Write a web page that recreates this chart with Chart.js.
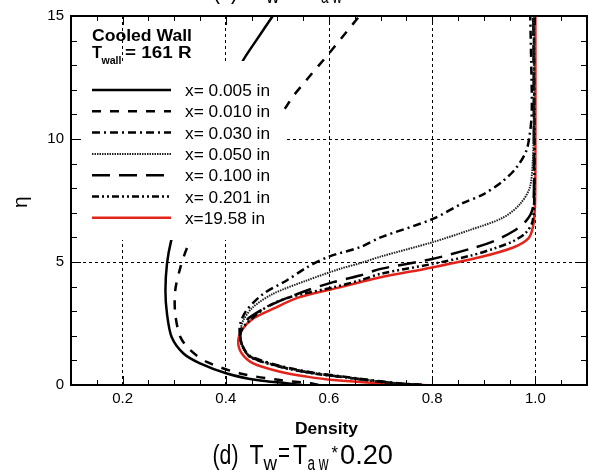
<!DOCTYPE html>
<html>
<head>
<meta charset="utf-8">
<script src="https://cdn.jsdelivr.net/npm/chart.js@4.4.0/dist/chart.umd.min.js"></script>
<style>
  html, body { margin: 0; padding: 0; background: #fff; }
  #wrap { position: relative; width: 594px; height: 476px; }
</style>
</head>
<body>
<div id="wrap"><canvas id="densityChart"></canvas></div>
<script>
const seriesLabels = ['x= 0.005 in', 'x= 0.010 in', 'x= 0.030 in', 'x= 0.050 in', 'x= 0.100 in', 'x= 0.201 in', 'x=19.58 in'];
const xTicks = [0.2, 0.4, 0.6, 0.8, 1.0];
const yTicks = [0, 5, 10, 15];

// density vs eta, starting at the wall (eta = 0)
const rho005 = [0.548, 0.518, 0.46, 0.402, 0.35, 0.318, 0.295, 0.286, 0.283, 0.286, 0.294, 0.31, 0.33, 0.355, 0.385, 0.41, 0.432, 0.462, 0.491];
const eta005 = [0, 0.07, 0.2, 0.47, 0.88, 1.28, 1.95, 2.9, 3.84, 4.92, 5.86, 7.0, 8.2, 9.5, 11.0, 12.1, 13.14, 14.1, 15];

const rho010 = [0.58, 0.565, 0.505, 0.428, 0.363, 0.331, 0.312, 0.302, 0.302, 0.312, 0.324, 0.345, 0.375, 0.41, 0.445, 0.48, 0.515, 0.53, 0.6, 0.647, 0.659];
const eta010 = [0, 0.07, 0.2, 0.47, 0.94, 1.42, 1.95, 2.9, 3.84, 4.78, 5.53, 6.5, 7.6, 8.7, 9.6, 10.4, 11.25, 11.73, 13.48, 14.69, 15];

const rho030 = [0.78, 0.72, 0.621, 0.57, 0.505, 0.447, 0.432, 0.427, 0.428, 0.44, 0.473, 0.518, 0.557, 0.6, 0.66, 0.7, 0.8, 0.86, 0.899, 0.937, 0.963, 0.982, 0.989, 0.993, 0.992, 0.99];
const eta030 = [0, 0.1, 0.36, 0.5, 0.78, 1.18, 1.6, 2.08, 2.49, 3.03, 3.71, 4.25, 4.78, 5.22, 5.6, 6.0, 6.74, 7.4, 7.75, 8.29, 8.83, 9.5, 10.18, 11.1, 13, 15];

const rho050 = [0.78, 0.72, 0.621, 0.57, 0.505, 0.447, 0.432, 0.428, 0.434, 0.453, 0.492, 0.557, 0.621, 0.66, 0.7, 0.8, 0.873, 0.937, 0.97, 0.989, 0.995, 0.997, 0.997];
const eta050 = [0, 0.09, 0.35, 0.49, 0.76, 1.16, 1.6, 2.1, 2.63, 3.17, 3.71, 4.25, 4.72, 4.95, 5.22, 5.8, 6.3, 6.8, 7.35, 8.02, 9.1, 11, 15];

const rho100 = [0.78, 0.72, 0.621, 0.57, 0.505, 0.447, 0.432, 0.428, 0.434, 0.447, 0.492, 0.557, 0.608, 0.66, 0.7, 0.8, 0.873, 0.92, 0.957, 0.982, 0.995, 0.997, 0.996];
const eta100 = [0, 0.09, 0.34, 0.48, 0.75, 1.15, 1.6, 2.05, 2.45, 2.76, 3.3, 3.84, 4.18, 4.45, 4.72, 5.12, 5.53, 5.85, 6.25, 6.67, 7.21, 9, 15];

const rho201 = [0.78, 0.72, 0.621, 0.57, 0.505, 0.447, 0.432, 0.428, 0.432, 0.44, 0.479, 0.524, 0.608, 0.66, 0.7, 0.8, 0.873, 0.92, 0.957, 0.982, 0.995, 0.998, 0.997];
const eta201 = [0, 0.08, 0.34, 0.47, 0.74, 1.14, 1.6, 2.0, 2.3, 2.5, 3.17, 3.57, 3.97, 4.25, 4.52, 4.92, 5.25, 5.55, 5.85, 6.2, 6.7, 8.5, 15];

const rho1958 = [0.785, 0.7, 0.608, 0.557, 0.505, 0.453, 0.431, 0.424, 0.431, 0.453, 0.492, 0.54, 0.621, 0.66, 0.7, 0.8, 0.892, 0.957, 0.986, 0.995, 0.999, 1.0, 1.0];
const eta1958 = [0, 0.07, 0.2, 0.34, 0.54, 0.88, 1.28, 1.75, 2.22, 2.7, 3.1, 3.55, 3.97, 4.18, 4.38, 4.78, 5.19, 5.59, 5.95, 6.4, 7.2, 9, 15];

const rhoSeries = [rho005, rho010, rho030, rho050, rho100, rho201, rho1958];
const etaSeries = [eta005, eta010, eta030, eta050, eta100, eta201, eta1958];

const lineStyles = [
  { color: '#000', width: 2.5, dash: [] },
  { color: '#000', width: 2.5, dash: [9, 9] },
  { color: '#000', width: 2.5, dash: [8, 4, 2, 4] },
  { color: '#222', width: 2, dash: [1.5, 1] },
  { color: '#000', width: 2.5, dash: [18, 9] },
  { color: '#000', width: 2.5, dash: [7, 3, 2, 3, 2, 3] },
  { color: '#e2241b', width: 2.5, dash: [] }
];

const FONT = '"Liberation Sans", Arial, sans-serif';

const datasets = seriesLabels.map((label, i) => ({
  label: label,
  data: rhoSeries[i].map((r, j) => ({ x: r, y: etaSeries[i][j] })),
  showLine: true,
  borderColor: lineStyles[i].color,
  borderWidth: lineStyles[i].width,
  borderDash: lineStyles[i].dash,
  pointRadius: 0,
  tension: 0.3,
  fill: false
}));

// draws text squeezed/stretched horizontally to a given width
function drawFit(ctx, text, x, y, font, width) {
  ctx.font = font;
  const w = ctx.measureText(text).width;
  ctx.save();
  ctx.translate(x, y);
  ctx.scale(width / w, 1);
  ctx.fillText(text, 0, 0);
  ctx.restore();
}

const decorPlugin = {
  id: 'decor',
  afterDatasetsDraw(chart) {
    const ctx = chart.ctx;
    const xs = chart.scales.x, ys = chart.scales.y;
    const area = chart.chartArea;
    ctx.save();

    // legend box (white, hides grid and curves behind it)
    ctx.fillStyle = '#fff';
    ctx.fillRect(area.left + 1, 61, 212, 179);
    ctx.textAlign = 'left';
    for (let i = 0; i < seriesLabels.length; i++) {
      const y = 90 + i * 21.3;
      ctx.beginPath();
      ctx.strokeStyle = lineStyles[i].color;
      ctx.lineWidth = lineStyles[i].width;
      ctx.setLineDash(lineStyles[i].dash);
      ctx.moveTo(92, y);
      ctx.lineTo(171, y);
      ctx.stroke();
      ctx.setLineDash([]);
      ctx.fillStyle = '#000';
      ctx.textBaseline = 'alphabetic';
      drawFit(ctx, seriesLabels[i], 185, y + 6, '16px ' + FONT, i === 6 ? 80 : 85);
    }

    ctx.fillStyle = '#000';
    drawFit(ctx, 'Cooled Wall', 92, 40.5, 'bold 16px ' + FONT, 100);
    drawFit(ctx, 'T', 92, 58.3, 'bold 16px ' + FONT, 10);
    drawFit(ctx, 'wall', 101.5, 64, 'bold 11px ' + FONT, 20);
    drawFit(ctx, '= 161 R', 125, 58.3, 'bold 16px ' + FONT, 66.5);

    // frame
    ctx.strokeStyle = '#000';
    ctx.lineWidth = 2;
    ctx.strokeRect(area.left, area.top, area.right - area.left, area.bottom - area.top);

    // inward ticks on all four sides
    ctx.lineWidth = 1;
    ctx.beginPath();
    for (let k = 2; k <= 22; k++) {
      const v = k * 0.05;
      const px = Math.round(xs.getPixelForValue(v)) + 0.5;
      const len = (k % 4 === 0) ? 9 : 5;
      ctx.moveTo(px, area.bottom); ctx.lineTo(px, area.bottom - len);
      ctx.moveTo(px, area.top); ctx.lineTo(px, area.top + len);
    }
    for (let v = 0; v <= 15; v++) {
      const py = Math.round(ys.getPixelForValue(v)) + 0.5;
      const len = (v % 5 === 0) ? 10 : 6;
      ctx.moveTo(area.left, py); ctx.lineTo(area.left + len, py);
      ctx.moveTo(area.right, py); ctx.lineTo(area.right - len, py);
    }
    ctx.stroke();

    // axis titles
    drawFit(ctx, 'Density', 295, 434, 'bold 16px ' + FONT, 63);
    ctx.save();
    ctx.translate(27, 208);
    ctx.rotate(-Math.PI / 2);
    ctx.font = '21px ' + FONT;
    ctx.fillText('η', 0, 0);
    ctx.restore();

    // panel caption
    const big = '27px ' + FONT, small = '20px ' + FONT;
    drawFit(ctx, '(d)', 212.5, 464, big, 26);
    drawFit(ctx, 'T', 249.5, 464, big, 14);
    drawFit(ctx, 'w', 263.5, 470, small, 13.5);
    drawFit(ctx, '=', 278, 462, big, 12);
    drawFit(ctx, 'T', 293, 464, big, 14);
    drawFit(ctx, 'a w', 307.5, 470, small, 21);
    drawFit(ctx, '*', 331.5, 459, '19px ' + FONT, 6.5);
    drawFit(ctx, '0.20', 340, 464, big, 53);

    // caption of the panel above, cut off at the top edge
    drawFit(ctx, '(c)', 212.5, -2, big, 26);
    drawFit(ctx, 'T', 249.5, -2, big, 14);
    drawFit(ctx, 'w', 266, 3, small, 13.5);
    drawFit(ctx, '=', 282, -4, big, 12);
    drawFit(ctx, 'T', 306, -2, big, 14);
    drawFit(ctx, 'a w', 321, 3, small, 21);

    ctx.restore();
  }
};

new Chart(document.getElementById('densityChart'), {
  type: 'scatter',
  data: { datasets: datasets },
  options: {
    responsive: true,
    maintainAspectRatio: false,
    animation: false,
    layout: { padding: { left: 0, right: 7, top: 14, bottom: 0 } },
    plugins: { legend: { display: false }, tooltip: { enabled: false } },
    scales: {
      x: {
        type: 'linear',
        min: 0.1,
        max: 1.1,
        afterBuildTicks: (scale) => { scale.ticks = xTicks.map(v => ({ value: v })); },
        afterFit: (scale) => { scale.height = 91; },
        grid: { color: '#000', lineWidth: 1, drawTicks: false, borderDash: [3, 3] },
        border: { display: false, dash: [3, 3] },
        ticks: {
          color: '#000',
          font: { family: FONT, size: 15 },
          padding: 5,
          maxRotation: 0,
          callback: (v) => Number(v).toFixed(1)
        }
      },
      y: {
        type: 'linear',
        min: 0,
        max: 15,
        afterBuildTicks: (scale) => { scale.ticks = yTicks.map(v => ({ value: v })); },
        afterFit: (scale) => { scale.width = 71; },
        grid: {
          color: (c) => (c.tick && (c.tick.value === 0 || c.tick.value === 15)) ? 'rgba(0,0,0,0)' : '#000',
          lineWidth: 1,
          drawTicks: false,
          borderDash: [3, 3]
        },
        border: { display: false, dash: [3, 3] },
        ticks: {
          color: '#000',
          font: { family: FONT, size: 15 },
          padding: 7
        }
      }
    }
  },
  plugins: [decorPlugin]
});
</script>
</body>
</html>
